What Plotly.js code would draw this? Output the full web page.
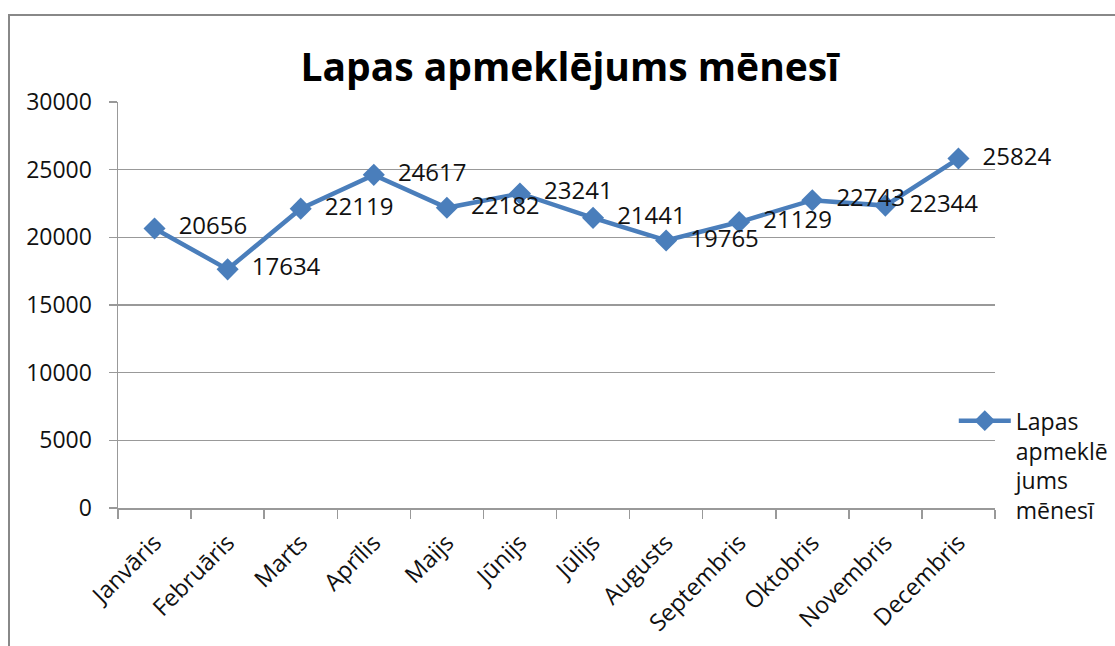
<!DOCTYPE html>
<html>
<head>
<meta charset="utf-8">
<script src="https://cdn.plot.ly/plotly-3.0.1.min.js"></script>
<style>
  html, body { margin: 0; padding: 0; background: #fff; overflow: hidden; }
  #frame { position: absolute; left: 8px; top: 14px; width: 1200px; height: 700px; border: 2px solid #888; box-sizing: border-box; pointer-events: none; z-index: 5; }
  #chart { position: absolute; left: 0; top: 0; width: 1115px; height: 646px; }
</style>
</head>
<body>
<div id="chart"></div>
<div id="frame"></div>
<script>
const months = ["Janvāris", "Februāris", "Marts", "Aprīlis", "Maijs", "Jūnijs", "Jūlijs", "Augusts", "Septembris", "Oktobris", "Novembris", "Decembris"];
const visits = [20656, 17634, 22119, 24617, 22182, 23241, 21441, 19765, 21129, 22743, 22344, 25824];
const seriesName = "Lapas<br>apmeklē<br>jums<br>mēnesī";
const chartTitle = "Lapas apmeklējums mēnesī";
const yTicks = [0, 5000, 10000, 15000, 20000, 25000, 30000];

const font = "Open Sans, Noto Sans, sans-serif";
const trace = {
  x: months,
  y: visits,
  name: seriesName,
  type: "scatter",
  mode: "lines+markers+text",
  text: visits.map(v => "\u00a0\u00a0" + v),
  textposition: "middle right",
  textfont: { family: font, size: 24, color: "#111" },
  line: { color: "#4A7EBB", width: 4.5 },
  marker: { symbol: "diamond", size: 17, color: "#4A7EBB" },
  cliponaxis: false
};

const layout = {
  width: 1115, height: 646,
  margin: { l: 118, r: 120, t: 102, b: 138, autoexpand: false },
  paper_bgcolor: "#fff", plot_bgcolor: "#fff",
  font: { family: font, size: 23, color: "#111" },
  title: { text: "<b>" + chartTitle + "</b>", font: { family: font, size: 39, color: "#000" }, x: 0.511, xanchor: "center", y: 0.895, yanchor: "middle" },
  showlegend: true,
  legend: { x: 0.953, xanchor: "left", y: 0.268, yanchor: "top", valign: "top", font: { family: font, size: 23, color: "#111" }, bgcolor: "rgba(0,0,0,0)", itemwidth: 52 },
  xaxis: {
    type: "category",
    range: [-0.5, 11.5],
    tickson: "boundaries",
    ticks: "outside", ticklen: 9, tickcolor: "#999", tickwidth: 1.5,
    showline: true, linecolor: "#999", linewidth: 1.5,
    showgrid: false,
    tickangle: -45,
    ticklabelstandoff: 10,
    tickfont: { family: font, size: 23.5, color: "#111" },
    fixedrange: true
  },
  yaxis: {
    range: [0, 30000],
    tickvals: yTicks,
    ticktext: yTicks.map(String),
    ticks: "outside", ticklen: 8, tickcolor: "#999", tickwidth: 1.5,
    showline: true, linecolor: "#999", linewidth: 1.5,
    showgrid: true, gridcolor: "#999", gridwidth: 1.2,
    zeroline: false,
    ticklabelstandoff: 12,
    tickfont: { family: font, size: 23, color: "#111" },
    fixedrange: true
  }
};

Plotly.newPlot("chart", [trace], layout, { staticPlot: true, displayModeBar: false });
</script>
</body>
</html>
